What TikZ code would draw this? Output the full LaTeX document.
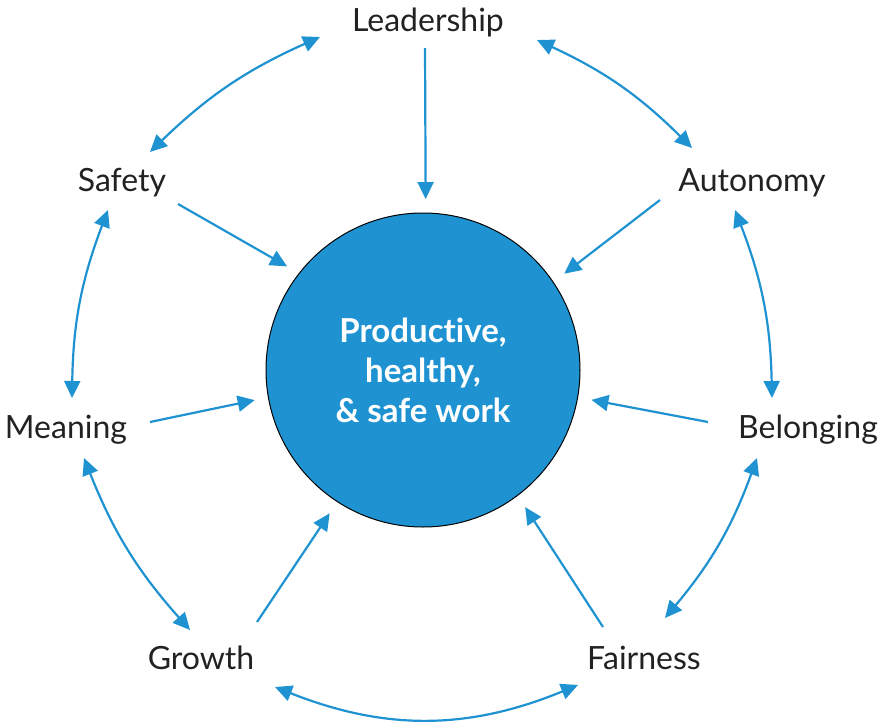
\documentclass[tikz,border=0pt]{standalone}
\usepackage{fontspec}
\setmainfont{Lato}[Ligatures={NoCommon}]
\usetikzlibrary{arrows.meta, calc}
\definecolor{wellblue}{HTML}{1F93D2}
\definecolor{labelgrey}{HTML}{222222}

\begin{document}
\begin{tikzpicture}[x=1pt, y=-1pt,
    factor/.style={font=\fontsize{32}{36}\selectfont, text=labelgrey, inner sep=2pt},
    flow/.style={-{Triangle[length=17pt,width=16pt]}, line width=2.2pt, wellblue, shorten >=14pt},
    link/.style={{Triangle[length=17pt,width=16pt]}-{Triangle[length=17pt,width=16pt]}, line width=2.2pt, wellblue}]

    \useasboundingbox (0,0) rectangle (884,728);

    % centre circle
    \node[circle, draw=black, line width=1pt, fill=wellblue, minimum size=314pt,
        inner sep=0pt, outer sep=0pt, text=white, align=center,
        font=\bfseries\fontsize{33}{40}\selectfont] (hub) at (423,370)
        {Productive,\\healthy,\\\& safe work};

    % factors
    \node[factor] (lead) at (428,22) {Leadership};
    \node[factor] (auto) at (752,183) {Autonomy};
    \node[factor] (belong) at (808,430) {Belonging};
    \node[factor] (fair) at (644,658) {Fairness};
    \node[factor] (growth) at (201,658) {Growth};
    \node[factor] (meaning) at (66,430) {Meaning};
    \node[factor] (safety) at (122,183) {Safety};

    % factors -> centre
    \draw[flow] ($(lead)+(-3,26)$) -- (hub.89);
    \draw[flow] ($(auto)+(-92,17)$) -- (hub.34);
    \draw[flow] ($(belong)+(-100,-8)$) -- (hub.-10);
    \draw[flow] ($(fair)+(-41,-31)$) -- (hub.-53);
    \draw[flow] ($(growth)+(56,-36)$) -- (hub.237);
    \draw[flow] ($(meaning)+(84,-8)$) -- (hub.190);
    \draw[flow] ($(safety)+(56,21)$) -- (hub.142);

    % ring between neighbours
    \draw[link] ($(lead)+(109,18)$) to[bend left=10] ($(auto)+(-60,-35)$);
    \draw[link] ($(auto)+(-17,27)$) to[bend left=10] ($(belong)+(-36,-32)$);
    \draw[link] ($(belong)+(-51,28)$) to[bend left=10] ($(fair)+(21,-40)$);
    \draw[link] ($(fair)+(-66,27)$) to[bend left=22] ($(growth)+(74,29)$);
    \draw[link] ($(growth)+(-11,-28)$) to[bend left=10] ($(meaning)+(18,28)$);
    \draw[link] ($(meaning)+(6,-32)$) to[bend left=10] ($(safety)+(-14,27)$);
    \draw[link] ($(safety)+(28,-31)$) to[bend left=10] ($(lead)+(-108,15)$);

\end{tikzpicture}
\end{document}
